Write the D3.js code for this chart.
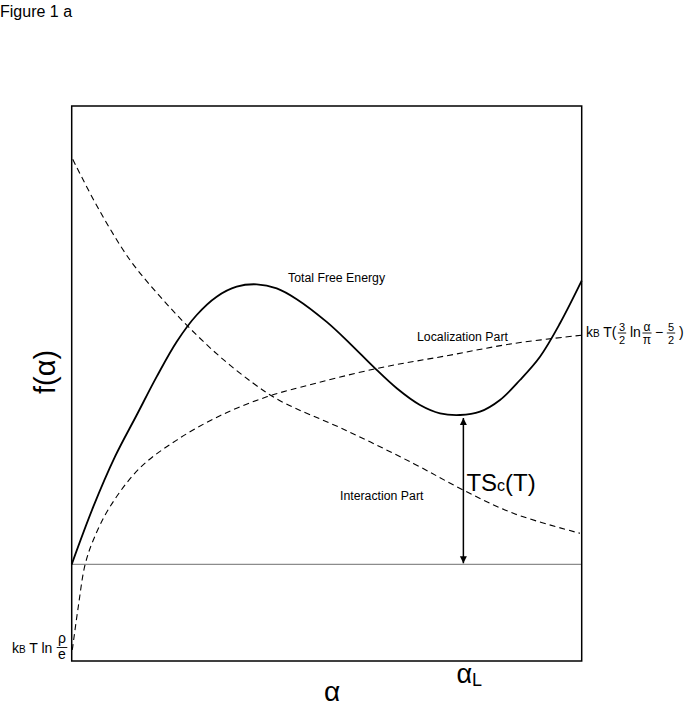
<!DOCTYPE html>
<html>
<head>
<meta charset="utf-8">
<script src="https://cdn.jsdelivr.net/npm/d3@7"></script>
<style>
  body { margin: 0; background: #fff; }
  svg { display: block; font-family: "Liberation Sans", Arial, Helvetica, sans-serif; }
</style>
</head>
<body>
<svg id="chart" width="689" height="709"></svg>
<script>
// curves, alpha on 0..10, f on 0..10 (arbitrary units)
const totalEnergy = [
  [0, 1.742], [0.424, 2.78], [0.849, 3.681], [1.275, 4.432], [1.667, 5.123],
  [2.059, 5.753], [2.451, 6.234], [2.843, 6.564], [3.235, 6.744], [3.627, 6.787],
  [4.02, 6.715], [4.412, 6.52], [5.0, 6.11], [5.457, 5.72], [5.914, 5.303],
  [6.373, 4.914], [6.829, 4.613], [7.222, 4.463], [7.614, 4.432], [8.006, 4.492],
  [8.398, 4.703], [8.79, 5.063], [9.182, 5.483], [9.575, 6.085], [10, 6.852]
];
const interactionPart = [
  [0.02, 9.04], [0.52, 8.157], [1.143, 7.225], [1.731, 6.57], [2.286, 6.023],
  [2.908, 5.483], [3.561, 5.004], [4.084, 4.69], [5.392, 4.15], [6.698, 3.56],
  [7.678, 3.081], [8.659, 2.661], [9.967, 2.301]
];
const localizationPart = [
  [0.012, 0.2], [0.129, 0.978], [0.261, 1.73], [0.424, 2.18], [0.751, 2.78],
  [1.339, 3.48], [2.059, 3.98], [2.908, 4.42], [3.824, 4.76], [4.476, 4.93],
  [5.98, 5.27], [7.353, 5.5], [8.659, 5.72], [10, 5.87]
];
const baseline = 1.742;   // f at alpha -> 0
const alphaL = 7.68;      // position of the minimum

const svg = d3.select("#chart");

const x = d3.scaleLinear().domain([0, 10]).range([71.7, 581.7]);
const y = d3.scaleLinear().domain([0, 10]).range([661, 106]);

const line = d3.line()
  .x(d => x(d[0]))
  .y(d => y(d[1]))
  .curve(d3.curveCatmullRom.alpha(0.5));

// arrow heads
const defs = svg.append("defs");
defs.append("marker")
  .attr("id", "head")
  .attr("viewBox", "0 0 10 10")
  .attr("refX", 10).attr("refY", 5)
  .attr("markerWidth", 7).attr("markerHeight", 12)
  .attr("markerUnits", "userSpaceOnUse")
  .attr("orient", "auto-start-reverse")
  .append("path")
  .attr("d", "M0,0L10,5L0,10Z")
  .attr("fill", "#000");

// title
svg.append("text")
  .attr("x", 0).attr("y", 17)
  .style("font-size", "16px")
  .text("Figure 1 a");

// baseline
svg.append("line")
  .attr("x1", x(0)).attr("x2", x(10))
  .attr("y1", y(baseline)).attr("y2", y(baseline))
  .attr("stroke", "#8c8c8c").attr("stroke-width", 1.3);

// dashed parts
[interactionPart, localizationPart].forEach(d => {
  svg.append("path")
    .datum(d)
    .attr("d", line)
    .attr("fill", "none")
    .attr("stroke", "#000")
    .attr("stroke-width", 1.1)
    .attr("stroke-dasharray", "6,4");
});

// total free energy
svg.append("path")
  .datum(totalEnergy)
  .attr("d", line)
  .attr("fill", "none")
  .attr("stroke", "#000")
  .attr("stroke-width", 1.8);

// frame
svg.append("rect")
  .attr("x", x(0)).attr("y", y(10))
  .attr("width", x(10) - x(0)).attr("height", y(0) - y(10))
  .attr("fill", "none")
  .attr("stroke", "#000")
  .attr("stroke-width", 1.5);

// TSc(T) arrow, from the local minimum down to the baseline
const fmin = d3.min(totalEnergy.filter(d => d[0] > 5), d => d[1]);
svg.append("line")
  .attr("x1", x(alphaL)).attr("x2", x(alphaL))
  .attr("y1", y(fmin) + 3).attr("y2", y(baseline) - 1)
  .attr("stroke", "#000").attr("stroke-width", 1.5)
  .attr("marker-start", "url(#head)")
  .attr("marker-end", "url(#head)");

const ts = svg.append("text")
  .attr("x", x(alphaL) + 3).attr("y", 491)
  .style("font-size", "24px");
ts.append("tspan").text("TS");
ts.append("tspan").style("font-size", "16px").text("c");
ts.append("tspan").text("(T)");

// curve labels
svg.append("text").attr("x", 288).attr("y", 282)
  .style("font-size", "12.3px").text("Total Free Energy");
svg.append("text").attr("x", 417).attr("y", 341)
  .style("font-size", "12.3px").text("Localization Part");
svg.append("text").attr("x", 340).attr("y", 500)
  .style("font-size", "12.3px").text("Interaction Part");

// axis labels
svg.append("text")
  .attr("x", 332).attr("y", 701)
  .attr("text-anchor", "middle")
  .style("font-size", "28px")
  .text("α");

svg.append("text")
  .attr("transform", "translate(55,372) rotate(-90)")
  .attr("text-anchor", "middle")
  .style("font-size", "29px")
  .text("f(α)");

const aL = svg.append("text")
  .attr("x", x(alphaL) - 7).attr("y", 683)
  .style("font-size", "27px");
aL.append("tspan").text("α");
aL.append("tspan").attr("dy", 3).style("font-size", "18px").text("L");

// small stacked fraction: bar at lineY, numerator above, denominator below
function frac(g, cx, lineY, num, den, size, numBase, denBase) {
  g.append("text").attr("x", cx).attr("y", numBase)
    .attr("text-anchor", "middle").style("font-size", size + "px").text(num);
  g.append("line")
    .attr("x1", cx - size * 0.38).attr("x2", cx + size * 0.38)
    .attr("y1", lineY).attr("y2", lineY)
    .attr("stroke", "#000").attr("stroke-width", 0.9);
  g.append("text").attr("x", cx).attr("y", denBase)
    .attr("text-anchor", "middle").style("font-size", size + "px").text(den);
}

// right-hand formula: kB T(3/2 ln α/π − 5/2)
const rf = svg.append("g");
const rb = 337;
const r1 = rf.append("text").attr("x", 586).attr("y", rb).style("font-size", "14px");
r1.append("tspan").text("k");
r1.append("tspan").style("font-size", "10px").text("B");
r1.append("tspan").text(" T(");
frac(rf, 622, 333, "3", "2", 11, 331, 343.5);
rf.append("text").attr("x", 630).attr("y", rb).style("font-size", "14px").text("ln");
frac(rf, 647, 333, "α", "π", 12, 330.5, 344);
rf.append("text").attr("x", 655).attr("y", rb).style("font-size", "14px").text("−");
frac(rf, 671, 333, "5", "2", 11, 331, 343.5);
rf.append("text").attr("x", 679).attr("y", rb).style("font-size", "14px").text(")");

// left-hand formula: kB T ln ρ/e
const lf = svg.append("g");
const l1 = lf.append("text").attr("x", 12).attr("y", 653).style("font-size", "14px");
l1.append("tspan").text("k");
l1.append("tspan").style("font-size", "10px").text("B");
l1.append("tspan").text(" T ln");
frac(lf, 62, 647.5, "ρ", "e", 14, 643, 659);
</script>
</body>
</html>
